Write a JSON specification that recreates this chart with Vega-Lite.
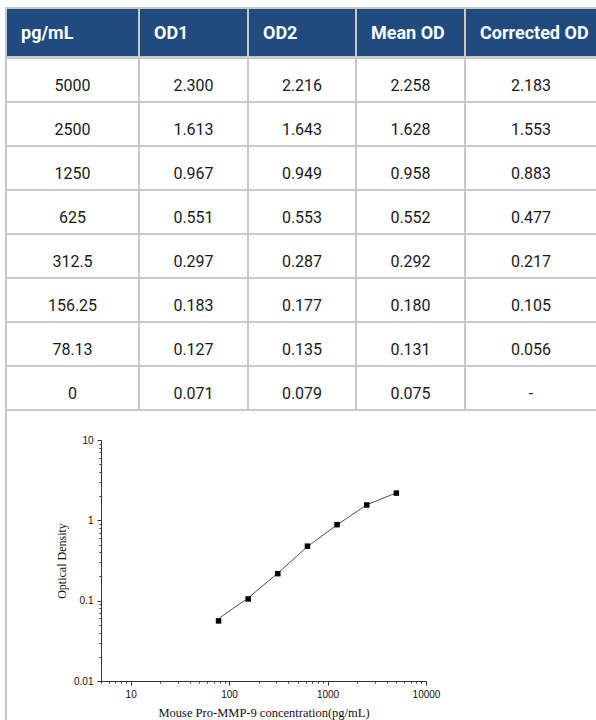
{
  "$schema": "https://vega.github.io/schema/vega-lite/v6.json",
  "padding": {"left": 5, "top": 7, "right": 0, "bottom": 0},
  "spacing": -2,
  "config": {"view": {"stroke": null}, "font": "Roboto"},
  "datasets": {
    "table": [
      {"conc": "5000", "od1": "2.300", "od2": "2.216", "mean": "2.258", "corr": "2.183"},
      {"conc": "2500", "od1": "1.613", "od2": "1.643", "mean": "1.628", "corr": "1.553"},
      {"conc": "1250", "od1": "0.967", "od2": "0.949", "mean": "0.958", "corr": "0.883"},
      {"conc": "625", "od1": "0.551", "od2": "0.553", "mean": "0.552", "corr": "0.477"},
      {"conc": "312.5", "od1": "0.297", "od2": "0.287", "mean": "0.292", "corr": "0.217"},
      {"conc": "156.25", "od1": "0.183", "od2": "0.177", "mean": "0.180", "corr": "0.105"},
      {"conc": "78.13", "od1": "0.127", "od2": "0.135", "mean": "0.131", "corr": "0.056"},
      {"conc": "0", "od1": "0.071", "od2": "0.079", "mean": "0.075", "corr": "-"}
    ],
    "headers": [
      {"key": "conc", "label": "pg/mL"},
      {"key": "od1", "label": "OD1"},
      {"key": "od2", "label": "OD2"},
      {"key": "mean", "label": "Mean OD"},
      {"key": "corr", "label": "Corrected OD"}
    ],
    "points": [
      {"conc": 78.13, "od": 0.056},
      {"conc": 156.25, "od": 0.105},
      {"conc": 312.5, "od": 0.217},
      {"conc": 625, "od": 0.477},
      {"conc": 1250, "od": 0.883},
      {"conc": 2500, "od": 1.553},
      {"conc": 5000, "od": 2.183}
    ],
    "fit": [
      {"conc": 80, "od": 0.061},
      {"conc": 156.25, "od": 0.108},
      {"conc": 312.5, "od": 0.22},
      {"conc": 625, "od": 0.47},
      {"conc": 1250, "od": 0.88},
      {"conc": 2500, "od": 1.56},
      {"conc": 5000, "od": 2.2}
    ]
  },
  "vconcat": [
    {
      "spacing": 0,
      "bounds": "flush",
      "hconcat": [
        {"width": 133, "height": 49, "data": {"name": "headers"}, "transform": [{"filter": "datum.key == 'conc'"}],
         "view": {"fill": "#214b7e", "stroke": "#c8c8c8", "strokeWidth": 2},
         "mark": {"type": "text", "align": "left", "baseline": "middle", "dx": 15, "dy": 1, "fontSize": 18, "fontWeight": "bold", "fill": "#ffffff", "font": "Roboto"},
         "encoding": {"text": {"field": "label"}, "x": {"datum": 0, "type": "quantitative", "scale": {"domain": [0, 1]}, "axis": null}}},
        {"width": 109, "height": 49, "data": {"name": "headers"}, "transform": [{"filter": "datum.key == 'od1'"}],
         "view": {"fill": "#214b7e", "stroke": "#c8c8c8", "strokeWidth": 2},
         "mark": {"type": "text", "align": "left", "baseline": "middle", "dx": 15, "dy": 1, "fontSize": 18, "fontWeight": "bold", "fill": "#ffffff", "font": "Roboto"},
         "encoding": {"text": {"field": "label"}, "x": {"datum": 0, "type": "quantitative", "scale": {"domain": [0, 1]}, "axis": null}}},
        {"width": 108, "height": 49, "data": {"name": "headers"}, "transform": [{"filter": "datum.key == 'od2'"}],
         "view": {"fill": "#214b7e", "stroke": "#c8c8c8", "strokeWidth": 2},
         "mark": {"type": "text", "align": "left", "baseline": "middle", "dx": 15, "dy": 1, "fontSize": 18, "fontWeight": "bold", "fill": "#ffffff", "font": "Roboto"},
         "encoding": {"text": {"field": "label"}, "x": {"datum": 0, "type": "quantitative", "scale": {"domain": [0, 1]}, "axis": null}}},
        {"width": 109, "height": 49, "data": {"name": "headers"}, "transform": [{"filter": "datum.key == 'mean'"}],
         "view": {"fill": "#214b7e", "stroke": "#c8c8c8", "strokeWidth": 2},
         "mark": {"type": "text", "align": "left", "baseline": "middle", "dx": 15, "dy": 1, "fontSize": 18, "fontWeight": "bold", "fill": "#ffffff", "font": "Roboto"},
         "encoding": {"text": {"field": "label"}, "x": {"datum": 0, "type": "quantitative", "scale": {"domain": [0, 1]}, "axis": null}}},
        {"width": 132, "height": 49, "data": {"name": "headers"}, "transform": [{"filter": "datum.key == 'corr'"}],
         "view": {"fill": "#214b7e", "stroke": "#c8c8c8", "strokeWidth": 2},
         "mark": {"type": "text", "align": "left", "baseline": "middle", "dx": 15, "dy": 1, "fontSize": 18, "fontWeight": "bold", "fill": "#ffffff", "font": "Roboto"},
         "encoding": {"text": {"field": "label"}, "x": {"datum": 0, "type": "quantitative", "scale": {"domain": [0, 1]}, "axis": null}}}
      ]
    },
    {
      "spacing": 0,
      "bounds": "flush",
      "hconcat": [
        {"width": 133, "height": 352, "data": {"name": "table"},
         "encoding": {"y": {"field": "conc", "type": "nominal", "sort": null, "axis": null, "scale": {"paddingInner": 0, "paddingOuter": 0}}},
         "layer": [
           {"mark": {"type": "rect", "fill": "#ffffff", "stroke": "#c8c8c8", "strokeWidth": 2}},
           {"mark": {"type": "text", "fontSize": 16, "fill": "#1a1a1a", "baseline": "middle", "dy": 6, "font": "Roboto"}, "encoding": {"text": {"field": "conc"}}}
         ]},
        {"width": 109, "height": 352, "data": {"name": "table"},
         "encoding": {"y": {"field": "conc", "type": "nominal", "sort": null, "axis": null, "scale": {"paddingInner": 0, "paddingOuter": 0}}},
         "layer": [
           {"mark": {"type": "rect", "fill": "#ffffff", "stroke": "#c8c8c8", "strokeWidth": 2}},
           {"mark": {"type": "text", "fontSize": 16, "fill": "#1a1a1a", "baseline": "middle", "dy": 6, "font": "Roboto"}, "encoding": {"text": {"field": "od1"}}}
         ]},
        {"width": 108, "height": 352, "data": {"name": "table"},
         "encoding": {"y": {"field": "conc", "type": "nominal", "sort": null, "axis": null, "scale": {"paddingInner": 0, "paddingOuter": 0}}},
         "layer": [
           {"mark": {"type": "rect", "fill": "#ffffff", "stroke": "#c8c8c8", "strokeWidth": 2}},
           {"mark": {"type": "text", "fontSize": 16, "fill": "#1a1a1a", "baseline": "middle", "dy": 6, "font": "Roboto"}, "encoding": {"text": {"field": "od2"}}}
         ]},
        {"width": 109, "height": 352, "data": {"name": "table"},
         "encoding": {"y": {"field": "conc", "type": "nominal", "sort": null, "axis": null, "scale": {"paddingInner": 0, "paddingOuter": 0}}},
         "layer": [
           {"mark": {"type": "rect", "fill": "#ffffff", "stroke": "#c8c8c8", "strokeWidth": 2}},
           {"mark": {"type": "text", "fontSize": 16, "fill": "#1a1a1a", "baseline": "middle", "dy": 6, "font": "Roboto"}, "encoding": {"text": {"field": "mean"}}}
         ]},
        {"width": 132, "height": 352, "data": {"name": "table"},
         "encoding": {"y": {"field": "conc", "type": "nominal", "sort": null, "axis": null, "scale": {"paddingInner": 0, "paddingOuter": 0}}},
         "layer": [
           {"mark": {"type": "rect", "fill": "#ffffff", "stroke": "#c8c8c8", "strokeWidth": 2}},
           {"mark": {"type": "text", "fontSize": 16, "fill": "#1a1a1a", "baseline": "middle", "dy": 6, "font": "Roboto"}, "encoding": {"text": {"field": "corr"}}}
         ]}
      ]
    },
    {
      "spacing": 0,
      "bounds": "flush",
      "hconcat": [
        {"width": 95, "height": 312, "data": {"values": [{}]},
         "mark": {"type": "rule", "color": "#c8c8c8", "strokeWidth": 2},
         "encoding": {"x": {"datum": 0, "type": "quantitative", "scale": {"domain": [0, 1]}, "axis": null}}},
        {
          "spacing": 0,
          "bounds": "flush",
          "vconcat": [
            {"width": 325, "height": 29, "data": {"values": []}, "mark": "point"},
            {"width": 325, "height": 241,
             "encoding": {
               "x": {"field": "conc", "type": "quantitative",
                     "scale": {"type": "log", "domain": [5, 10000], "nice": false},
                     "axis": {"title": "Mouse Pro-MMP-9 concentration(pg/mL)", "grid": false,
                              "values": [5, 6, 7, 8, 9, 10, 20, 30, 40, 50, 60, 70, 80, 90, 100, 200, 300, 400, 500, 600, 700, 800, 900, 1000, 2000, 3000, 4000, 5000, 6000, 7000, 8000, 9000, 10000],
                              "labelExpr": "indexof([10,100,1000,10000], datum.value) >= 0 ? toString(datum.value) : ''",
                              "tickSize": {"condition": {"test": "indexof([10,100,1000,10000], datum.value) >= 0", "value": 4}, "value": 2},
                              "labelOverlap": false, "labelFlush": false,
                              "domainColor": "#333333", "tickColor": "#333333",
                              "labelFont": "Liberation Sans", "labelFontSize": 10, "labelColor": "#111111", "labelPadding": 4,
                              "titleFont": "Liberation Serif", "titleFontSize": 12.5, "titleFontWeight": "normal", "titleColor": "#111111", "titlePadding": 7}},
               "y": {"field": "od", "type": "quantitative",
                     "scale": {"type": "log", "domain": [0.01, 10], "nice": false},
                     "axis": {"title": "Optical Density", "grid": false,
                              "values": [0.01, 0.02, 0.03, 0.04, 0.05, 0.06, 0.07, 0.08, 0.09, 0.1, 0.2, 0.3, 0.4, 0.5, 0.6, 0.7, 0.8, 0.9, 1, 2, 3, 4, 5, 6, 7, 8, 9, 10],
                              "labelExpr": "indexof([0.01,0.1,1,10], datum.value) >= 0 ? toString(datum.value) : ''",
                              "tickSize": {"condition": {"test": "indexof([0.01,0.1,1,10], datum.value) >= 0", "value": 4}, "value": 2},
                              "labelOverlap": false, "labelFlush": false,
                              "domainColor": "#333333", "tickColor": "#333333",
                              "labelFont": "Liberation Sans", "labelFontSize": 10, "labelColor": "#111111", "labelPadding": 4,
                              "titleFont": "Liberation Serif", "titleFontSize": 12, "titleFontWeight": "normal", "titleColor": "#111111", "titlePadding": 5}}
             },
             "layer": [
               {"data": {"name": "fit"}, "mark": {"type": "line", "color": "#222222", "strokeWidth": 0.8}},
               {"data": {"name": "points"}, "mark": {"type": "point", "shape": "square", "filled": true, "color": "#000000", "size": 30, "opacity": 1}}
             ]}
          ]
        }
      ]
    }
  ]
}
